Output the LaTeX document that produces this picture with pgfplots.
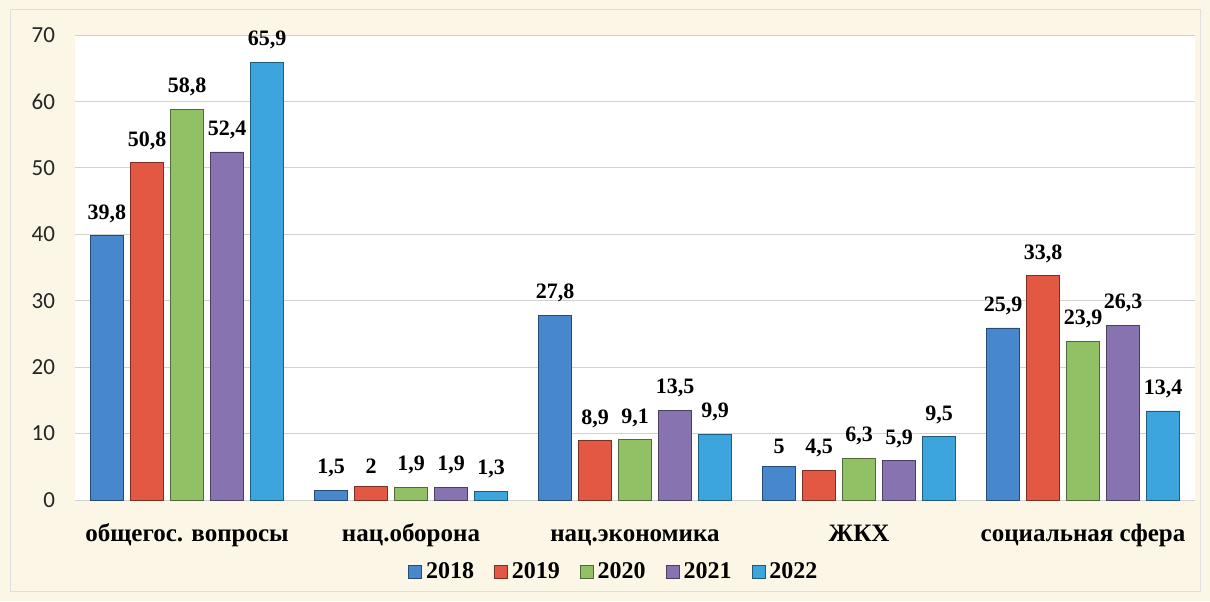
\documentclass[border=0pt]{standalone}
\usepackage{fontspec}
\setmainfont{Liberation Serif}
\newfontfamily\calibri{Carlito}
\usepackage{pgfplots}
\pgfplotsset{compat=1.18}
\definecolor{c18}{RGB}{70,135,205}
\definecolor{c19}{RGB}{226,88,66}
\definecolor{c20}{RGB}{145,193,100}
\definecolor{c21}{RGB}{135,115,175}
\definecolor{c22}{RGB}{60,165,222}
\definecolor{bgc}{RGB}{251,246,230}
\begin{document}
\begin{tikzpicture}
\fill[bgc] (-37.5pt,-50.5pt) rectangle (567.5pt,250pt);
\draw[gray!25] (-32.5pt,-45.5pt) rectangle (562.5pt,245.5pt);
\begin{axis}[
 at={(0,0)}, anchor=south west,
 width=560pt, height=232.5pt, scale only axis,
 ybar=3.5pt, bar width=16.5pt,
 xmin=-0.5, xmax=4.5, ymin=0, ymax=70,
 xtick={0,1,2,3,4},
 xticklabels={общегос. вопросы, нац.оборона, нац.экономика, ЖКХ, социальная сфера},
 ytick={0,10,...,70},
 ymajorgrids, grid style={gray!35},
 axis line style={draw=none},
 major tick length=0pt,
 axis background/.style={fill=white},
 /pgf/number format/assume math mode=true,
 /pgf/number format/use comma,
 yticklabel style={font=\calibri\fontsize{11.5}{13}\selectfont, text=black!85, xshift=-6.5pt},
 xticklabel style={font=\bfseries\fontsize{12.5}{15}\selectfont, yshift=-10pt, text height=1.6ex, text depth=0.5ex},
 nodes near coords,
 every node near coord/.append style={font=\bfseries\fontsize{11}{13}\selectfont, text=black, yshift=3pt},
 legend style={at={(0.482,-0.155)}, anchor=center, legend columns=5, draw=none, fill=none,
   font=\bfseries\fontsize{12}{14}\selectfont,
   /tikz/every even column/.append style={column sep=8pt}},
 legend image code/.code={\draw[#1] (0pt,-3pt) rectangle (6.5pt,3.5pt);},
]
\addplot[fill=c18, draw=c18!55!black] coordinates {(0,39.8) (1,1.5) (2,27.8) (3,5) (4,25.9)};
\addplot[fill=c19, draw=c19!55!black] coordinates {(0,50.8) (1,2) (2,8.9) (3,4.5) (4,33.8)};
\addplot[fill=c20, draw=c20!55!black] coordinates {(0,58.8) (1,1.9) (2,9.1) (3,6.3) (4,23.9)};
\addplot[fill=c21, draw=c21!55!black] coordinates {(0,52.4) (1,1.9) (2,13.5) (3,5.9) (4,26.3)};
\addplot[fill=c22, draw=c22!55!black] coordinates {(0,65.9) (1,1.3) (2,9.9) (3,9.5) (4,13.4)};
\legend{2018,2019,2020,2021,2022}
\end{axis}
\end{tikzpicture}
\end{document}
